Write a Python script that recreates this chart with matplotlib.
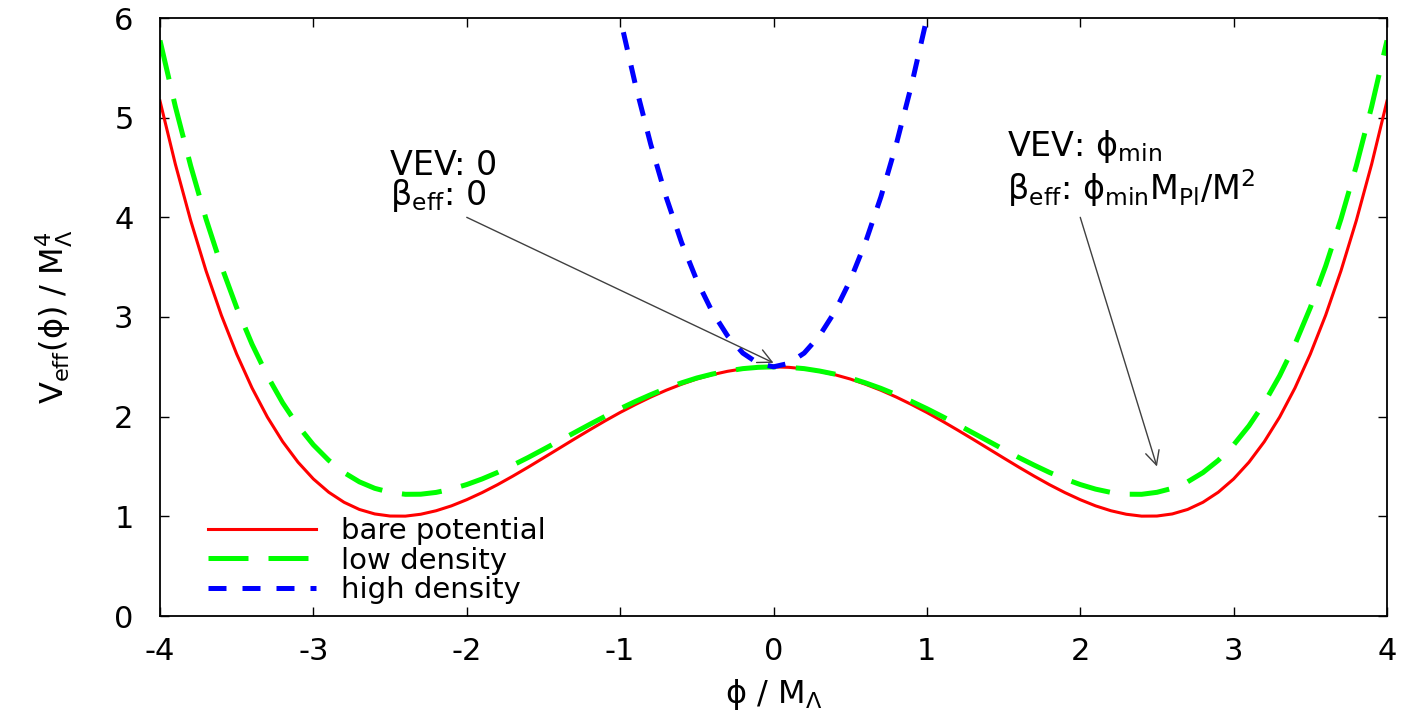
import matplotlib
matplotlib.use('Agg')
import matplotlib.pyplot as plt

plt.rcParams['font.family'] = ['DejaVu Sans']
plt.rcParams['mathtext.fontset'] = 'dejavusans'
plt.rcParams['mathtext.default'] = 'regular'
plt.rcParams['axes.unicode_minus'] = False

# field values phi / M_Lambda
phi = [-4.0, -3.9, -3.8, -3.7, -3.6, -3.5, -3.4, -3.3, -3.2, -3.1,
       -3.0, -2.9, -2.8, -2.7, -2.6, -2.5, -2.4, -2.3, -2.2, -2.1,
       -2.0, -1.9, -1.8, -1.7, -1.6, -1.5, -1.4, -1.3, -1.2, -1.1,
       -1.0, -0.9, -0.8, -0.7, -0.6, -0.5, -0.4, -0.3, -0.2, -0.1,
       0.0, 0.1, 0.2, 0.3, 0.4, 0.5, 0.6, 0.7, 0.8, 0.9,
       1.0, 1.1, 1.2, 1.3, 1.4, 1.5, 1.6, 1.7, 1.8, 1.9,
       2.0, 2.1, 2.2, 2.3, 2.4, 2.5, 2.6, 2.7, 2.8, 2.9,
       3.0, 3.1, 3.2, 3.3, 3.4, 3.5, 3.6, 3.7, 3.8, 3.9, 4.0]

# bare potential
bare = [5.167, 4.534, 3.968, 3.464, 3.018, 2.628, 2.288, 1.996, 1.749, 1.543,
        1.375, 1.242, 1.141, 1.069, 1.024, 1.003, 1.002, 1.021, 1.056, 1.105,
        1.167, 1.238, 1.317, 1.403, 1.493, 1.586, 1.680, 1.774, 1.866, 1.956,
        2.042, 2.122, 2.197, 2.265, 2.325, 2.378, 2.421, 2.455, 2.480, 2.495,
        2.500, 2.495, 2.480, 2.455, 2.421, 2.378, 2.325, 2.265, 2.197, 2.122,
        2.042, 1.956, 1.866, 1.774, 1.680, 1.586, 1.493, 1.403, 1.317, 1.238,
        1.167, 1.105, 1.056, 1.021, 1.002, 1.003, 1.024, 1.069, 1.141, 1.242,
        1.375, 1.543, 1.749, 1.996, 2.288, 2.628, 3.018, 3.464, 3.968, 4.534, 5.167]

# low density
low = [5.775, 5.112, 4.517, 3.984, 3.511, 3.094, 2.727, 2.410, 2.138, 1.908,
       1.717, 1.562, 1.439, 1.346, 1.281, 1.241, 1.221, 1.222, 1.240, 1.273,
       1.319, 1.375, 1.440, 1.513, 1.590, 1.672, 1.755, 1.838, 1.921, 2.002,
       2.080, 2.153, 2.221, 2.284, 2.339, 2.388, 2.427, 2.458, 2.482, 2.495,
       2.500, 2.495, 2.482, 2.458, 2.427, 2.388, 2.339, 2.284, 2.221, 2.153,
       2.080, 2.002, 1.921, 1.838, 1.755, 1.672, 1.590, 1.513, 1.440, 1.375,
       1.319, 1.273, 1.240, 1.222, 1.221, 1.241, 1.281, 1.346, 1.439, 1.562,
       1.717, 1.908, 2.138, 2.410, 2.727, 3.094, 3.511, 3.984, 4.517, 5.112, 5.775]

# high density (only the part under the top of the frame)
phi_high = [-1.1, -1.0, -0.9, -0.8, -0.7, -0.6, -0.5, -0.4, -0.3, -0.2, -0.1,
            0.0, 0.1, 0.2, 0.3, 0.4, 0.5, 0.6, 0.7, 0.8, 0.9, 1.0, 1.1]
high = [6.745, 6.000, 5.328, 4.730, 4.204, 3.750, 3.367, 3.054, 2.812, 2.638, 2.535,
        2.500, 2.535, 2.638, 2.812, 3.054, 3.367, 3.750, 4.204, 4.730, 5.328, 6.000, 6.745]

fig = plt.figure(figsize=(14.02, 7.10), dpi=100)
ax = fig.add_axes([160/1402, 94/710, 1227/1402, 598/710])

ax.plot(phi, bare, color='#ff0000', lw=2.2, label='bare potential')
ax.plot(phi, low, color='#00ff00', lw=3.6, dashes=(8, 4), label='low density')
ax.plot(phi_high, high, color='#0000ff', lw=3.6, dashes=(3.6, 3.2), label='high density')

ax.set_xlim(-4, 4)
ax.set_ylim(0, 6)
ax.set_xticks(range(-4, 5))
ax.set_yticks(range(0, 7))
ax.tick_params(direction='in', top=True, right=True, length=6.5, width=1, labelsize=22)
ax.tick_params(axis='y', pad=19)
ax.tick_params(axis='x', pad=15)
for s in ax.spines.values():
    s.set_linewidth(1.3)

ax.set_xlabel('ϕ / M$_{\\Lambda}$', fontsize=23, labelpad=8)
ax.set_ylabel('V$_{eff}$(ϕ) / M$_{\\Lambda}^{4}$', fontsize=23, labelpad=28)

# annotations
arr = dict(arrowstyle='->,head_length=0.5,head_width=0.25', color='#404040',
           lw=1.0, shrinkA=0, shrinkB=0, mutation_scale=20)
ax.annotate('', xy=(0.0, 2.54), xytext=(-2.0, 4.0), arrowprops=arr, zorder=4)
ax.annotate('', xy=(2.5, 1.5), xytext=(2.0, 4.0), arrowprops=arr, zorder=4)

ax.text(-2.5, 4.03, 'VEV: 0\nβ$_{eff}$: 0', fontsize=24, va='bottom', linespacing=0.85)
ax.text(1.52, 4.62, 'VEV: ϕ$_{min}$', fontsize=24, va='baseline')
ax.text(1.52, 4.17, 'β$_{eff}$: ϕ$_{min}$M$_{Pl}$/M$^{2}$', fontsize=24, va='baseline')

ax.legend(loc='lower left', bbox_to_anchor=(0.039, 0.02), frameon=False, fontsize=21,
          handlelength=3.7, handletextpad=0.85, labelspacing=0.05, borderpad=0,
          borderaxespad=0)

fig.savefig('out.png', dpi=100)
